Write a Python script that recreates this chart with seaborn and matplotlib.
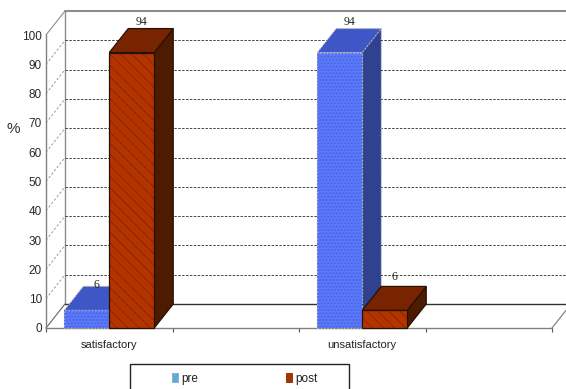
import matplotlib
matplotlib.use('Agg')
import matplotlib.pyplot as plt
from matplotlib.patches import Polygon, Rectangle
import numpy as np
import pandas as pd
import seaborn as sns

categories = ['satisfactory', ' ', 'unsatisfactory', '  ']
pre_values = [6, np.nan, 94, np.nan]
post_values = [94, np.nan, 6, np.nan]
y_ticks = list(range(0, 101, 10))
grid_values = list(range(10, 100, 10))
series_names = ['pre', 'post']

W, H = 566, 389
LEFT, RIGHT, TOP, BOTTOM = 46, 552, 35, 328
DX = 19 / ((RIGHT - LEFT) / 4)
DY = 24 / ((BOTTOM - TOP) / 100)

sns.set_theme(style='white')
plt.rcParams['font.family'] = ['Liberation Sans', 'DejaVu Sans']
plt.rcParams['hatch.linewidth'] = 0.8

fig = plt.figure(figsize=(W / 100, H / 100), dpi=100)
ax = fig.add_axes([LEFT / W, 1 - BOTTOM / H, (RIGHT - LEFT) / W, (BOTTOM - TOP) / H])

df = pd.DataFrame({
    'category': categories * 2,
    'series': ['pre'] * 4 + ['post'] * 4,
    'value': pre_values + post_values,
})
sns.barplot(data=df, x='category', y='value', hue='series', hue_order=series_names,
            order=categories, width=0.711, gap=0, saturation=1, palette=['#5A78FA', '#B43400'],
            legend=False, ax=ax)

ax.set_xlim(-0.5, 3.5)
ax.set_ylim(0, 100)
ax.set_xlabel('')
ax.set_ylabel('')
ax.set_yticks(y_ticks)
ax.tick_params(axis='y', labelsize=8.5, length=2, width=0.8, color='#555555', pad=1, labelcolor='#2a2a2a')
ax.tick_params(axis='x', which='major', labelsize=8, length=0, pad=9, labelcolor='#222222')
ax.set_xticks([-0.5, 0.5, 1.5, 2.5, 3.5], minor=True)
ax.tick_params(axis='x', which='minor', length=3, width=0.8, color='#555555', bottom=True)
for side in ['top', 'right']:
    ax.spines[side].set_visible(False)
for side in ['left', 'bottom']:
    ax.spines[side].set_color('#808080')
    ax.spines[side].set_linewidth(1.0)

x0, x1 = -0.5, 3.5
x_far = x0 + (W - LEFT) / ((RIGHT - LEFT) / 4)

# back wall, floor and the slanted edges
ax.plot([x0 + DX, x_far], [100 + DY, 100 + DY], color='#8c8c8c', lw=1.5, clip_on=False, zorder=1)
ax.plot([x0 + DX, x0 + DX], [DY, 100 + DY], color='#8c8c8c', lw=1.0, clip_on=False, zorder=1)
ax.plot([x0 + DX, x_far], [DY, DY], color='#333333', lw=1.0, clip_on=False, zorder=1)
ax.plot([x0, x0 + DX], [0, DY], color='#666666', lw=0.8, clip_on=False, zorder=1)
ax.plot([x0, x0 + DX], [100, 100 + DY], color='#8c8c8c', lw=0.8, clip_on=False, zorder=1)
ax.plot([x1, x1 + DX], [0, DY], color='#777777', lw=0.8, clip_on=False, zorder=1)

for v in grid_values:
    ax.plot([x0 + DX, x_far], [v + DY, v + DY], color='#444444', lw=0.7, ls=(0, (2.5, 1.5)),
            clip_on=False, zorder=1)
    ax.plot([x0, x0 + DX], [v, v + DY], color='#9a9a9a', lw=0.7, ls=(0, (2.5, 2)),
            clip_on=False, zorder=1)


def draw_depth(bar, top_color, side_color, edge, hatch, style, z):
    x, w, h = bar.get_x(), bar.get_width(), bar.get_height()
    top = [(x, h), (x + w, h), (x + w + DX, h + DY), (x + DX, h + DY)]
    side = [(x + w, 0), (x + w + DX, DY), (x + w + DX, h + DY), (x + w, h)]
    for pts, color in [(side, side_color), (top, top_color)]:
        ax.add_patch(Polygon(pts, closed=True, facecolor=color, edgecolor=edge, lw=0.9,
                             ls=style, clip_on=False, zorder=z))
    bar.set_zorder(z + 0.1)
    bar.set_hatch(hatch)
    bar.set_edgecolor(hatch_colors[hatch])
    bar.set_linewidth(0)
    ax.add_patch(Rectangle((x, 0), w, h, fill=False, edgecolor=edge, lw=0.9, ls=style,
                           clip_on=False, zorder=z + 0.2))


hatch_colors = {'.....': '#4A62E0', '\\\\\\': '#8E2A00'}

pre_bars = [b for b in ax.containers[0] if np.isfinite(b.get_height()) and b.get_height() > 0]
post_bars = [b for b in ax.containers[1] if np.isfinite(b.get_height()) and b.get_height() > 0]
for b in pre_bars:
    draw_depth(b, '#3F57C6', '#2F418F', '#B4B4B4', '.....', ':', 3)
for b in post_bars:
    draw_depth(b, '#782400', '#4D1B00', '#2a1000', '\\\\\\', '-', 4)

# value labels sit above the back edge of each bar's top face
label_lift = {id(pre_bars[0]): 1, id(pre_bars[1]): 7, id(post_bars[0]): 7, id(post_bars[1]): 9}
for b in pre_bars + post_bars:
    h = b.get_height()
    ax.annotate(f'{h:.0f}', (b.get_x() + b.get_width() / 2 + DX / 2, h + DY),
                xytext=(0, label_lift[id(b)] * 0.72), textcoords='offset points',
                ha='center', va='center', fontsize=8.5, family='Liberation Serif',
                color='#222222', annotation_clip=False, zorder=6)

fig.text(13.5 / W, 1 - 129 / H, '%', fontsize=11, color='#333333', ha='center', va='center')

# legend frame runs off the bottom of the picture
fig.add_artist(Rectangle((130 / W, -0.02), 219 / W, 1 - 364 / H + 0.02, transform=fig.transFigure,
                         facecolor='white', edgecolor='#222222', lw=1.0))
leg_handles = [Rectangle((0, 0), 1, 1, facecolor='#45B6D8', edgecolor='#9aa0c8', lw=0.6, hatch='....'),
               Rectangle((0, 0), 1, 1, facecolor='#A63300', edgecolor='#8A2A00', lw=0.6)]
fig.legend(leg_handles, series_names, ncols=2, frameon=False, fontsize=8.5,
           loc='center left', bbox_to_anchor=(172 / W, 1 - 379 / H), handlelength=0.5,
           handleheight=0.8, handletextpad=0.3, columnspacing=7.4, borderpad=0, borderaxespad=0,
           labelcolor='#222222')

fig.savefig('out.png', dpi=100, facecolor='white')
